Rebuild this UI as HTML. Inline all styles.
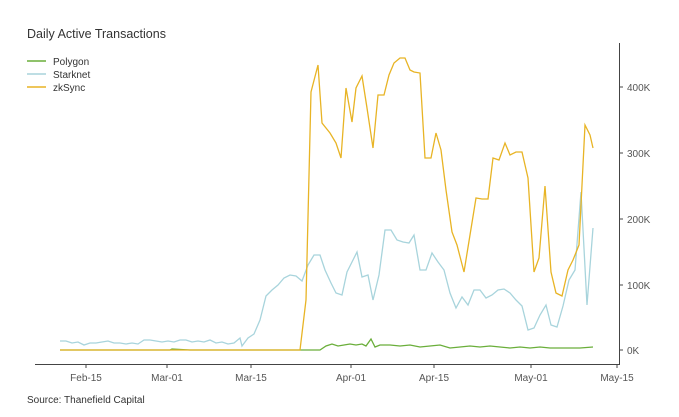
<!DOCTYPE html><html><head><style>body{margin:0;background:#fff}svg{font-family:"Liberation Sans",sans-serif}</style></head><body>
<svg width="679" height="412" viewBox="0 0 679 412" xmlns="http://www.w3.org/2000/svg">
<text x="27" y="38" font-size="12.5" fill="#333">Daily Active Transactions</text>
<line x1="27" y1="61" x2="46" y2="61" stroke="#6aae3a" stroke-width="1.5"/><text x="53" y="65" font-size="10" fill="#333">Polygon</text>
<line x1="27" y1="74" x2="46" y2="74" stroke="#a8d4dc" stroke-width="1.5"/><text x="53" y="78" font-size="10" fill="#333">Starknet</text>
<line x1="27" y1="87" x2="46" y2="87" stroke="#e8b425" stroke-width="1.5"/><text x="53" y="91" font-size="10" fill="#333">zkSync</text>
<g stroke="#444" stroke-width="1" fill="none">
<line x1="35" y1="364.5" x2="619" y2="364.5"/><line x1="619.5" y1="43" x2="619.5" y2="365"/>
<line x1="86" y1="364" x2="86" y2="368"/><line x1="167" y1="364" x2="167" y2="368"/><line x1="251" y1="364" x2="251" y2="368"/><line x1="351" y1="364" x2="351" y2="368"/><line x1="434" y1="364" x2="434" y2="368"/><line x1="531" y1="364" x2="531" y2="368"/><line x1="617" y1="364" x2="617" y2="368"/>
<line x1="619" y1="350" x2="623" y2="350"/><line x1="619" y1="285" x2="623" y2="285"/><line x1="619" y1="219" x2="623" y2="219"/><line x1="619" y1="153" x2="623" y2="153"/><line x1="619" y1="87" x2="623" y2="87"/>
</g>
<g font-size="10" fill="#555" text-anchor="middle">
<text x="86" y="381">Feb-15</text><text x="167" y="381">Mar-01</text><text x="251" y="381">Mar-15</text><text x="351" y="381">Apr-01</text><text x="434" y="381">Apr-15</text><text x="531" y="381">May-01</text><text x="617" y="381">May-15</text>
</g>
<g font-size="10" fill="#555">
<text x="627" y="354">0K</text><text x="627" y="289">100K</text><text x="627" y="223">200K</text><text x="627" y="157">300K</text><text x="627" y="91">400K</text>
</g>
<text x="27" y="403" font-size="10" fill="#333">Source: Thanefield Capital</text>
<polyline fill="none" stroke="#a8d4dc" stroke-width="1.3" points="60,341 66,341 72,343 78,342 84,345 90,343 96,343 102,342 108,341 114,343 120,343 126,344 132,343 138,344 144,340 150,340 156,341 162,342 168,341 174,342 180,340 186,340 192,342 198,341 204,342 210,340 216,343 222,342 228,344 234,343 240,338 242,346 248,338 254,334 260,320 266,296 272,290 278,285 284,278 290,275 296,276 302,281 308,265 314,255 320,255 325,270 331,283 336,293 342,295 347,272 352,262 357,252 362,277 368,275 373,300 379,275 385,230 391,230 397,240 403,242 409,243 414,235 420,270 426,270 432,253 438,262 444,270 450,293 456,308 462,297 468,305 474,290 480,290 486,298 492,295 498,290 504,289 510,293 516,300 522,306 528,330 534,328 540,315 546,305 551,325 557,327 563,306 569,280 575,270 581,192 587,305 593,228"/>
<polyline fill="none" stroke="#6aae3a" stroke-width="1.3" points="60,350 170,350 172,349 190,350 320,350 326,346 332,344 338,346 344,345 350,344 356,345 362,344 366,346 371,339 375,347 380,345 390,345 400,346 410,345 420,347 430,346 440,345 450,348 460,347 470,346 480,347 490,346 500,347 510,348 520,347 530,348 540,347 550,348 560,348 570,348 580,348 593,347"/>
<polyline fill="none" stroke="#e8b425" stroke-width="1.3" points="60,350 300,350 306,300 311,92 318,65 322,123 330,133 336,143 341,158 346,88 352,122 356,88 362,76 367,108 373,148 378,95 384,95 389,75 394,63 400,58 405,58 410,70 414,72 420,73 425,158 431,158 436,133 441,150 446,190 452,232 457,245 464,272 470,235 476,198 482,199 488,199 493,158 499,160 505,143 510,155 516,152 522,152 528,178 534,272 539,258 545,186 551,272 556,293 562,296 568,270 573,260 579,245 585,125 590,135 593,148"/>
</svg></body></html>
